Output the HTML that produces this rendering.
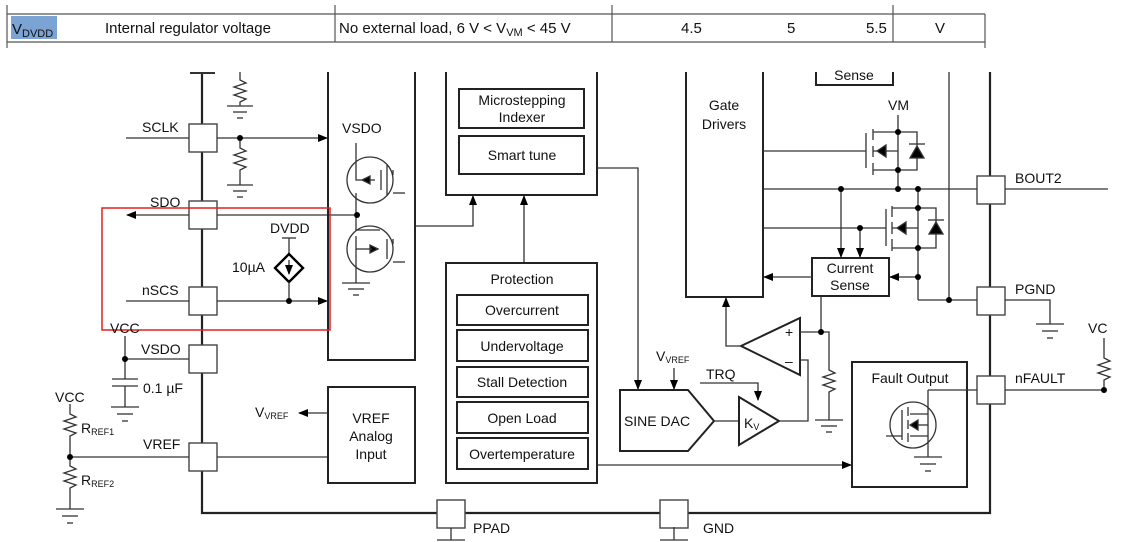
<!DOCTYPE html>
<html><head><meta charset="utf-8"><style>
html,body{margin:0;padding:0;background:#fff;}
svg{display:block;font-family:"Liberation Sans",Arial,sans-serif;}
text{fill:#111;}
</style></head><body>
<svg width="1140" height="542" viewBox="0 0 1140 542" xmlns="http://www.w3.org/2000/svg">
<defs>
<marker id="a" markerWidth="10" markerHeight="10" refX="9" refY="5" orient="auto" markerUnits="userSpaceOnUse"><path d="M0,1 L10,5 L0,9 z" fill="#000"/></marker>
</defs>
<g stroke="#555" stroke-width="1.2" fill="none">
<line x1="7" y1="14" x2="985" y2="14"/><line x1="7" y1="42" x2="985" y2="42"/>
<line x1="7" y1="5" x2="7" y2="48"/><line x1="335" y1="5" x2="335" y2="42"/><line x1="612" y1="5" x2="612" y2="42"/><line x1="893" y1="5" x2="893" y2="42"/><line x1="985" y1="14" x2="985" y2="48"/>
</g>
<rect x="11" y="16" width="46" height="23" fill="#7ba3d4"/>
<g font-size="15">
<text x="12" y="34">V<tspan font-size="11" dy="3">DVDD</tspan></text>
<text x="105" y="33">Internal regulator voltage</text>
<text x="339" y="33">No external load, 6 V &lt; V<tspan font-size="11" dy="3">VM</tspan><tspan dy="-3"> &lt; 45 V</tspan></text>
<text x="681" y="33">4.5</text><text x="787" y="33">5</text><text x="866" y="33">5.5</text><text x="935" y="33">V</text>
</g>
<g stroke="#333" fill="none" stroke-width="1.3">
<path d="M202,72 V513 H990 V72" stroke-width="2.2" stroke="#222"/>
<line x1="190" y1="73" x2="215" y2="73" stroke-width="2"/>
<g fill="#fff" stroke="#444" stroke-width="1.4">
<rect x="189" y="124" width="28" height="28"/><rect x="189" y="201" width="28" height="28"/>
<rect x="189" y="287" width="28" height="28"/><rect x="189" y="345" width="28" height="28"/>
<rect x="189" y="443" width="28" height="28"/>
<rect x="977" y="176" width="28" height="28"/><rect x="977" y="287" width="28" height="28"/>
<rect x="977" y="376" width="28" height="28"/>
<rect x="437" y="500" width="28" height="28"/><rect x="660" y="500" width="28" height="28"/>
</g>
<line x1="451" y1="528" x2="451" y2="540"/><line x1="437" y1="540" x2="465" y2="540"/>
<line x1="674" y1="527" x2="674" y2="540"/><line x1="660" y1="540" x2="688" y2="540"/>
<path d="M240,72 V80 l6,3 l-12,4 l12,4 l-12,4 l12,4 l-6,3 V106"/>
<line x1="227" y1="106" x2="253" y2="106"/><line x1="233" y1="112" x2="247" y2="112"/><line x1="237" y1="118" x2="243" y2="118"/>
<path d="M240,138 V148 l6,3 l-12,4 l12,4 l-12,4 l12,4 l-6,3 V185"/>
<line x1="227" y1="185" x2="253" y2="185"/><line x1="233" y1="191" x2="247" y2="191"/><line x1="237" y1="197" x2="243" y2="197"/>
<line x1="126" y1="138" x2="189" y2="138"/><line x1="217" y1="138" x2="327" y2="138" marker-end="url(#a)"/>
<line x1="189" y1="215" x2="127" y2="215" marker-end="url(#a)"/><line x1="217" y1="215" x2="357" y2="215"/>
<line x1="126" y1="301" x2="189" y2="301"/><line x1="217" y1="301" x2="327" y2="301" marker-end="url(#a)"/>
<line x1="282" y1="238" x2="296" y2="238"/><line x1="289" y1="238" x2="289" y2="254"/>
<path d="M289,254 l14,14 l-14,14 l-14,-14 z" stroke-width="2.4" stroke="#000"/>
<line x1="289" y1="260" x2="289" y2="274" marker-end="url(#a)"/>
<line x1="289" y1="282" x2="289" y2="301"/>
<path d="M328,72 V360 H415 V72" stroke-width="2" stroke="#222"/>
<line x1="356" y1="143" x2="356" y2="160"/>
<circle cx="370" cy="180" r="23"/><circle cx="370" cy="249" r="23"/>
<path d="M356,160 V180 H375 M381,170 V190 M387,165 V195 M393,170 V175 M356,193 V215 V230 H380 M387,239 V259 M393,239 V244 M356,262 V283"/>
<path d="M362,180 l8,-4 v8z" fill="#000"/><path d="M378,249 l-8,-4 v8z" fill="#000"/>
<line x1="356" y1="236" x2="356" y2="262"/><line x1="356" y1="249" x2="372" y2="249"/>
<line x1="393" y1="193" x2="405" y2="193"/><line x1="393" y1="262" x2="405" y2="262"/>
<line x1="342" y1="283" x2="370" y2="283"/><line x1="348" y1="289" x2="364" y2="289"/><line x1="353" y1="295" x2="359" y2="295"/>
<path d="M415,226 H473 V196" marker-end="url(#a)"/>
<line x1="125" y1="336" x2="125" y2="379"/><line x1="125" y1="359" x2="189" y2="359"/>
<line x1="112" y1="379" x2="138" y2="379"/><line x1="112" y1="386" x2="138" y2="386"/>
<line x1="125" y1="386" x2="125" y2="407"/>
<line x1="111" y1="407" x2="139" y2="407"/><line x1="117" y1="414" x2="133" y2="414"/><line x1="122" y1="421" x2="128" y2="421"/>
<path d="M70,404 V414 l6,3 l-12,4 l12,4 l-12,4 l12,4 l-6,3 V457 V466 l6,3 l-12,4 l12,4 l-12,4 l12,4 l-6,3 V509"/>
<line x1="56" y1="509" x2="84" y2="509"/><line x1="62" y1="516" x2="78" y2="516"/><line x1="67" y1="523" x2="73" y2="523"/>
<line x1="70" y1="457" x2="189" y2="457"/><line x1="217" y1="457" x2="328" y2="457"/>
<rect x="328" y="387" width="87" height="96" stroke-width="2" stroke="#222"/>
<line x1="328" y1="413" x2="299" y2="413" marker-end="url(#a)"/>
<path d="M446,72 V195 H597 V72" stroke-width="2" stroke="#222"/>
<rect x="459" y="89" width="125" height="39" stroke-width="2" stroke="#222"/>
<rect x="459" y="136" width="125" height="38" stroke-width="2" stroke="#222"/>
<path d="M597,168 H638 V389" marker-end="url(#a)"/>
<line x1="524" y1="263" x2="524" y2="196" marker-end="url(#a)"/>
<rect x="446" y="263" width="151" height="220" stroke-width="2" stroke="#222"/>
<g stroke-width="2" stroke="#222">
<rect x="457" y="295" width="131" height="30"/><rect x="457" y="330" width="131" height="31"/>
<rect x="457" y="367" width="131" height="30"/><rect x="457" y="402" width="131" height="31"/>
<rect x="457" y="438" width="131" height="31"/>
</g>
<line x1="597" y1="465" x2="851" y2="465" marker-end="url(#a)"/>
<path d="M620,390 H688 L714,421 L688,451 H620 Z" stroke-width="2" stroke="#222"/>
<line x1="674" y1="368" x2="674" y2="389" marker-end="url(#a)"/>
<line x1="714" y1="421" x2="739" y2="421"/>
<path d="M739,397 L779,421 L739,445 Z" stroke-width="2" stroke="#222"/>
<path d="M700,383 H758 V400" marker-end="url(#a)"/>
<path d="M779,421 H808 V360 H800"/>
<path d="M800,318 V375 L741,346 Z" stroke-width="2" stroke="#222"/>
<path d="M741,346 H726 V298" marker-end="url(#a)"/>
<path d="M800,332 H821 V296 M821,332 H829 V370 l6,3 l-12,4 l12,4 l-12,4 l12,4 l-6,3 V420"/>
<line x1="815" y1="420" x2="843" y2="420"/><line x1="821" y1="426" x2="837" y2="426"/><line x1="826" y1="432" x2="832" y2="432"/>
<path d="M686,72 V297 H763 V72" stroke-width="2" stroke="#222"/>
<path d="M816,72 V85 H893 V72" stroke-width="2" stroke="#222"/>
<line x1="949" y1="72" x2="949" y2="300"/>
<line x1="763" y1="151" x2="866" y2="151"/>
<line x1="866" y1="133" x2="866" y2="168"/>
<path d="M873,129 V140 M873,146 V157 M873,163 V175 M873,132 H898 M873,170 H898 M873,151 H898 V170 M898,115 V189 M898,132 H917 V170 H898"/>
<path d="M877,151 l9,-6 v12z" fill="#000"/>
<path d="M917,146 l-7,12 h14z" fill="#000"/><line x1="909" y1="144" x2="925" y2="144"/>
<line x1="763" y1="189" x2="977" y2="189"/><line x1="1005" y1="189" x2="1108" y2="189"/>
<line x1="763" y1="228" x2="886" y2="228"/>
<line x1="886" y1="209" x2="886" y2="246"/>
<path d="M892,206 V217 M892,222 V234 M892,239 V251 M892,208 H918 M892,248 H918 M892,228 H918 V248 M918,189 V300 M918,208 H936 V248 H918"/>
<path d="M897,228 l9,-6 v12z" fill="#000"/>
<path d="M936,222 l-7,12 h14z" fill="#000"/><line x1="928" y1="220" x2="944" y2="220"/>
<line x1="841" y1="189" x2="841" y2="257" marker-end="url(#a)"/>
<line x1="860" y1="228" x2="860" y2="257" marker-end="url(#a)"/>
<rect x="812" y="258" width="77" height="38" stroke-width="2" stroke="#222"/>
<line x1="812" y1="277" x2="764" y2="277" marker-end="url(#a)"/>
<line x1="918" y1="277" x2="890" y2="277" marker-end="url(#a)"/>
<line x1="918" y1="300" x2="977" y2="300"/>
<path d="M1005,300 H1050 V324"/>
<line x1="1036" y1="324" x2="1064" y2="324"/><line x1="1042" y1="331" x2="1058" y2="331"/><line x1="1047" y1="338" x2="1053" y2="338"/>
<rect x="852" y="362" width="115" height="125" stroke-width="2" stroke="#222"/>
<circle cx="913" cy="425" r="23"/>
<path d="M928,390 H977 M1005,390 H1104 M928,390 V414 H910 M928,414 V457 M928,436 H910 M902,410 V440 M908,407 V416 M908,420 V429 M908,433 V442 M886,436 H902"/>
<path d="M910,425 l8,-5 v10z" fill="#000"/><line x1="918" y1="425" x2="928" y2="425"/>
<line x1="914" y1="457" x2="942" y2="457"/><line x1="920" y1="464" x2="936" y2="464"/><line x1="925" y1="471" x2="931" y2="471"/>
<path d="M1104,390 V380 l6,-3 l-12,-4 l12,-4 l-12,-4 l12,-4 l-6,-3 V338"/>
</g>
<g fill="#000">
<circle cx="240" cy="138" r="3"/><circle cx="357" cy="215" r="3"/><circle cx="289" cy="301" r="3"/>
<circle cx="125" cy="359" r="3"/><circle cx="70" cy="457" r="3"/><circle cx="821" cy="332" r="3"/>
<circle cx="898" cy="132" r="3"/><circle cx="898" cy="170" r="3"/><circle cx="898" cy="189" r="3"/>
<circle cx="918" cy="189" r="3"/><circle cx="841" cy="189" r="3"/><circle cx="918" cy="208" r="3"/>
<circle cx="918" cy="248" r="3"/><circle cx="860" cy="228" r="3"/><circle cx="918" cy="277" r="3"/>
<circle cx="949" cy="300" r="3"/><circle cx="1104" cy="390" r="3"/>
</g>
<rect x="102" y="208" width="228" height="122" fill="none" stroke="#e02020" stroke-width="1.5"/>
<g font-size="14">
<text x="142" y="132">SCLK</text><text x="150" y="207">SDO</text><text x="142" y="295">nSCS</text>
<text x="110" y="333">VCC</text><text x="141" y="354">VSDO</text><text x="143" y="393">0.1 µF</text>
<text x="55" y="402">VCC</text><text x="81" y="433">R<tspan font-size="9" dy="2">REF1</tspan></text>
<text x="81" y="485">R<tspan font-size="9" dy="2">REF2</tspan></text><text x="143" y="449">VREF</text>
<text x="342" y="133">VSDO</text><text x="270" y="233">DVDD</text><text x="232" y="272">10µA</text>
<text x="255" y="417">V<tspan font-size="9" dy="2">VREF</tspan></text>
<text x="371" y="423" text-anchor="middle">VREF</text><text x="371" y="441" text-anchor="middle">Analog</text><text x="371" y="459" text-anchor="middle">Input</text>
<text x="522" y="105" text-anchor="middle">Microstepping</text><text x="522" y="122" text-anchor="middle">Indexer</text>
<text x="522" y="160" text-anchor="middle">Smart tune</text>
<text x="522" y="284" text-anchor="middle">Protection</text>
<text x="522" y="315" text-anchor="middle">Overcurrent</text><text x="522" y="351" text-anchor="middle">Undervoltage</text>
<text x="522" y="387" text-anchor="middle">Stall Detection</text><text x="522" y="423" text-anchor="middle">Open Load</text>
<text x="522" y="459" text-anchor="middle">Overtemperature</text>
<text x="656" y="361">V<tspan font-size="9" dy="2">VREF</tspan></text>
<text x="657" y="426" text-anchor="middle">SINE DAC</text><text x="706" y="379">TRQ</text>
<text x="744" y="428">K<tspan font-size="9" dy="2">V</tspan></text>
<text x="785" y="337">+</text><text x="785" y="366">–</text>
<text x="724" y="110" text-anchor="middle">Gate</text><text x="724" y="129" text-anchor="middle">Drivers</text>
<text x="854" y="80" text-anchor="middle">Sense</text><text x="888" y="110">VM</text>
<text x="850" y="273" text-anchor="middle">Current</text><text x="850" y="290" text-anchor="middle">Sense</text>
<text x="1015" y="183">BOUT2</text><text x="1015" y="294">PGND</text><text x="1015" y="383">nFAULT</text>
<text x="1088" y="333">VC</text><text x="910" y="383" text-anchor="middle">Fault Output</text>
<text x="473" y="533">PPAD</text><text x="703" y="533">GND</text>
</g>
</svg>
</body></html>
